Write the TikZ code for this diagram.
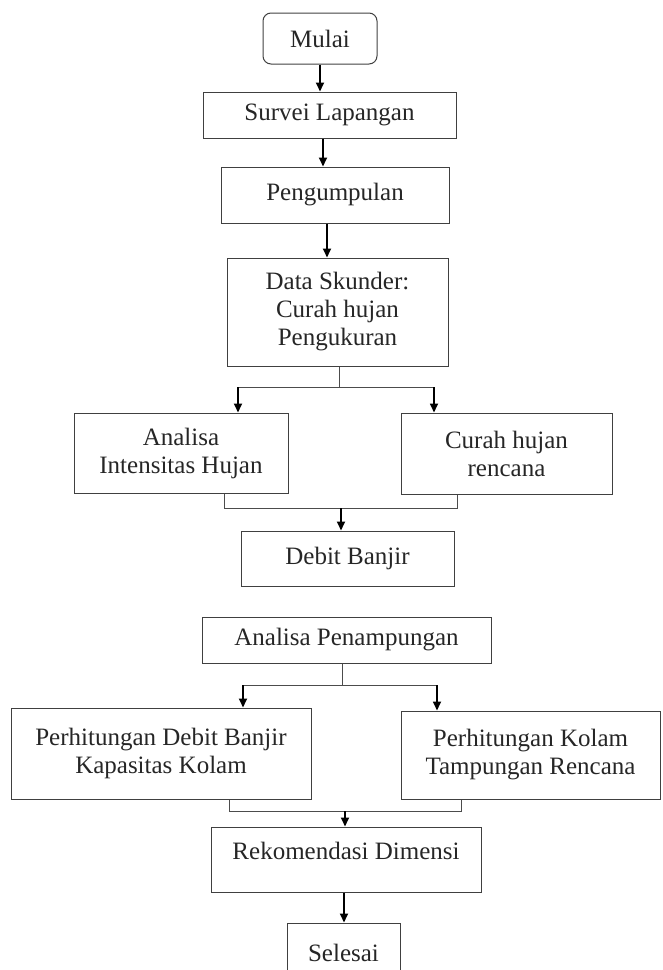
\documentclass[tikz,border=0pt]{standalone}
\usepackage{fontspec}
\setmainfont{Liberation Serif}
\usetikzlibrary{arrows.meta}
\tikzset{
  kotak/.style={draw=black!75, line width=1pt, align=center, text=black!85,
    font=\fontsize{25}{28}\selectfont, inner sep=0pt},
  mulaibox/.style={kotak, rounded corners=8pt},
  panah/.style={-{Triangle[length=9pt,width=8pt]}, line width=1.7pt},
  garis/.style={draw=black!70, line width=1pt}
}

\begin{document}
\begin{tikzpicture}[x=1pt,y=-1pt]
    \useasboundingbox (0,0) rectangle (663,970);

    \node[mulaibox, minimum width=114pt, minimum height=51pt] (mulai) at (320,38.5) {Mulai};
    \node[kotak, minimum width=253pt, minimum height=46pt] (survei) at (329.5,115) {Survei Lapangan};
    \node[kotak, minimum width=228pt, minimum height=56pt] (kumpul) at (335,195) {Pengumpulan};
    \node[kotak, minimum width=221pt, minimum height=108pt] (skunder) at (337.5,312) {Data Skunder:\\Curah hujan\\Pengukuran};
    \node[kotak, minimum width=214pt, minimum height=80pt] (analisa) at (181,453) {Analisa\\Intensitas Hujan};
    \node[kotak, minimum width=211pt, minimum height=81pt] (curah) at (506.5,453.5) {Curah hujan\\rencana};
    \node[kotak, minimum width=213pt, minimum height=55pt] (debit) at (347.5,558.5) {Debit Banjir};
    \node[kotak, minimum width=289pt, minimum height=46pt] (tampung) at (346.5,640) {Analisa Penampungan};
    \node[kotak, minimum width=300pt, minimum height=91pt] (hitdebit) at (161,753.5) {Perhitungan Debit Banjir\\Kapasitas Kolam};
    \node[kotak, minimum width=259pt, minimum height=88pt] (hitkolam) at (530.5,755) {Perhitungan Kolam\\Tampungan Rencana};
    \node[kotak, minimum width=270pt, minimum height=65pt, text depth=17pt] (rekom) at (346,859.5) {Rekomendasi Dimensi};
    \node[kotak, minimum width=113pt, minimum height=60pt] (selesai) at (343.5,953) {Selesai};

    \coordinate (s1) at ([xshift=-6.5pt]survei.south);
    \coordinate (k1) at ([xshift=-8pt]kumpul.south);
    \coordinate (sp1) at (339,387);
    \coordinate (inA) at ([xshift=57pt]analisa.north);
    \coordinate (inC) at ([xshift=-72.5pt]curah.north);
    \coordinate (mg1) at (341,508);
    \coordinate (sp2) at (342,685);
    \coordinate (inD) at ([xshift=82pt]hitdebit.north);
    \coordinate (inK) at ([xshift=-93.5pt]hitkolam.north);
    \coordinate (mg2) at (345,811);

    \draw[panah] (mulai.south) -- (mulai.south |- survei.north);
    \draw[panah] (s1) -- (s1 |- kumpul.north);
    \draw[panah] (k1) -- (k1 |- skunder.north);

    \draw[garis] (sp1 |- skunder.south) -- (sp1);
    \draw[garis] (inA |- sp1) -- (inC |- sp1);
    \draw[panah] (inA |- sp1) -- (inA);
    \draw[panah] (inC |- sp1) -- (inC);

    \draw[garis] ([xshift=43pt]analisa.south) |- (mg1);
    \draw[garis] ([xshift=-49.5pt]curah.south) |- (mg1);
    \draw[panah] (mg1) -- (mg1 |- debit.north);

    \draw[garis] (sp2 |- tampung.south) -- (sp2);
    \draw[garis] (inD |- sp2) -- (inK |- sp2);
    \draw[panah] (inD |- sp2) -- (inD);
    \draw[panah] (inK |- sp2) -- (inK);

    \draw[garis] ([xshift=68pt]hitdebit.south) |- (mg2);
    \draw[garis] ([xshift=-69.5pt]hitkolam.south) |- (mg2);
    \draw[panah] (mg2) -- (mg2 |- rekom.north);

    \draw[panah] ([xshift=-2pt]rekom.south) -- ([xshift=-2pt]rekom.south |- selesai.north);
\end{tikzpicture}
\end{document}
